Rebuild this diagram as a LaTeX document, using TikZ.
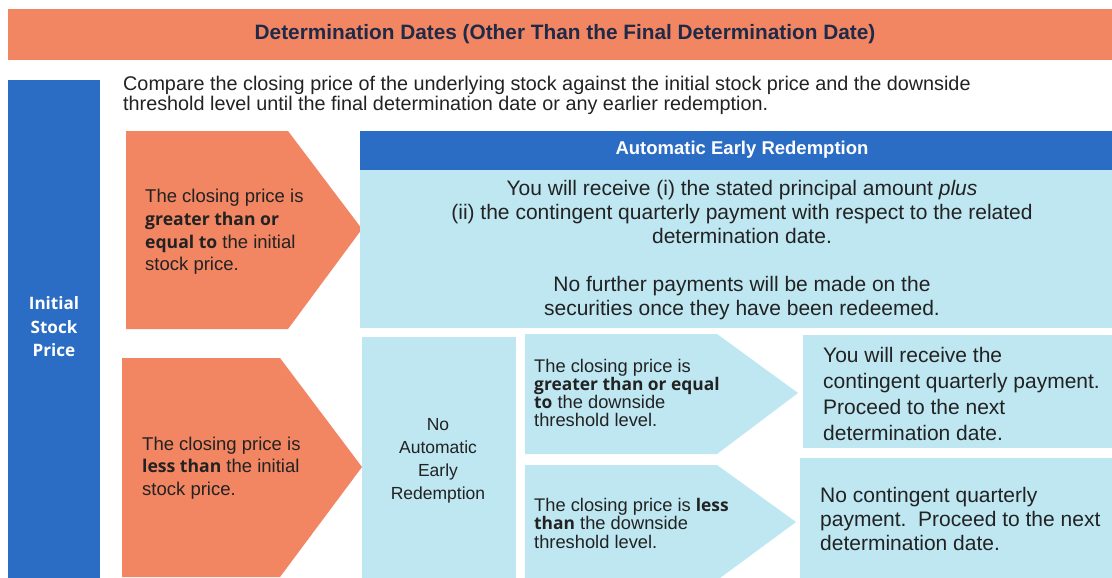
\documentclass[tikz,border=0pt]{standalone}
\usepackage{fontspec}
\setmainfont{Liberation Sans}
\newfontfamily\hum{Open Sans}[Scale=0.95]
\definecolor{orng}{HTML}{F28562}
\definecolor{dblue}{HTML}{2B6CC4}
\definecolor{lblue}{HTML}{BEE7F2}
\definecolor{txtc}{HTML}{222222}
\definecolor{navy}{HTML}{1E2A48}
\newcommand{\hb}[1]{{\hum\bfseries #1}}
\begin{document}
\begin{tikzpicture}[x=1pt,y=-1pt,
  lbl/.style={inner sep=0pt, text=txtc},
  fs/.style 2 args={font=\fontsize{#1}{#2}\selectfont},
  fsb/.style 2 args={font=\fontsize{#1}{#2}\selectfont\bfseries}]
\useasboundingbox (0,0) rectangle (1112,578);
\fill[white] (0,0) rectangle (1112,578);
% banner
\fill[orng] (8,9) rectangle (1112,60);
\node[lbl, text=navy, fsb={20.8}{22}] (title) at (565,34) {Determination Dates (Other Than the Final Determination Date)};
% left bar
\fill[dblue] (8,80) rectangle (100,578);
\node[lbl, text=white, align=center, font=\fontsize{18}{23.5}\selectfont\hum\bfseries] (isp) at (54,327) {Initial\\Stock\\Price};
% intro
\node[lbl, anchor=west, align=left, fs={19.8}{20}] (cmp) at (123,95) {Compare the closing price of the underlying stock against the initial stock price and the downside\\threshold level until the final determination date or any earlier redemption.};
% orange arrows
\fill[orng] (126,131) -- (288,131) -- (362,229) -- (288,329) -- (126,329) -- cycle;
\node[lbl, anchor=west, align=left, fs={18.5}{22.6}] (gt) at (145,232) {The closing price is\\\hb{greater than or}\\\hb{equal to} the initial\\stock price.};
\fill[orng] (122,358) -- (280,358) -- (362,467) -- (280,577) -- (122,577) -- cycle;
\node[lbl, anchor=west, align=left, fs={18.5}{22.6}] (lt) at (142,468) {The closing price is\\\hb{less than} the initial\\stock price.};
% automatic early redemption
\fill[dblue] (360,131) rectangle (1112,170);
\node[lbl, text=white, fsb={18.5}{20}] (aer) at (742,150) {Automatic Early Redemption};
\fill[lblue] (360,170) rectangle (1112,328);
\node[lbl, align=center, fs={21}{24}] (aert) at (742,250) {You will receive (i) the stated principal amount \textit{plus}\\(ii) the contingent quarterly payment with respect to the related\\determination date.\\[24pt]No further payments will be made on the\\securities once they have been redeemed.};
% no AER
\fill[lblue] (362,337) rectangle (516,578);
\node[lbl, align=center, fs={17.5}{23}] (naer) at (438,461) {No\\Automatic\\Early\\Redemption};
% blue arrows
\fill[lblue] (525,334) -- (717,334) -- (798,393) -- (717,454) -- (525,454) -- cycle;
\node[lbl, anchor=west, align=left, fs={18.3}{18.3}] (ge) at (534,393) {The closing price is\\\hb{greater than or equal}\\\hb{to} the downside\\threshold level.};
\fill[lblue] (525,465) -- (717,465) -- (796,522) -- (720,578) -- (525,578) -- cycle;
\node[lbl, anchor=west, align=left, fs={18.3}{18.5}] (ls) at (534,523) {The closing price is \hb{less}\\\hb{than} the downside\\threshold level.};
% outcomes
\fill[lblue] (803,335) rectangle (1112,448);
\node[lbl, anchor=west, align=left, fs={21}{26}] (pay) at (823,394) {You will receive the\\contingent quarterly payment.\\Proceed to the next\\determination date.};
\fill[lblue] (800,458) rectangle (1112,578);
\node[lbl, anchor=west, align=left, fs={21}{24}] (nopay) at (820,519) {No contingent quarterly\\payment.\ \ Proceed to the next\\determination date.};
\end{tikzpicture}
\end{document}
